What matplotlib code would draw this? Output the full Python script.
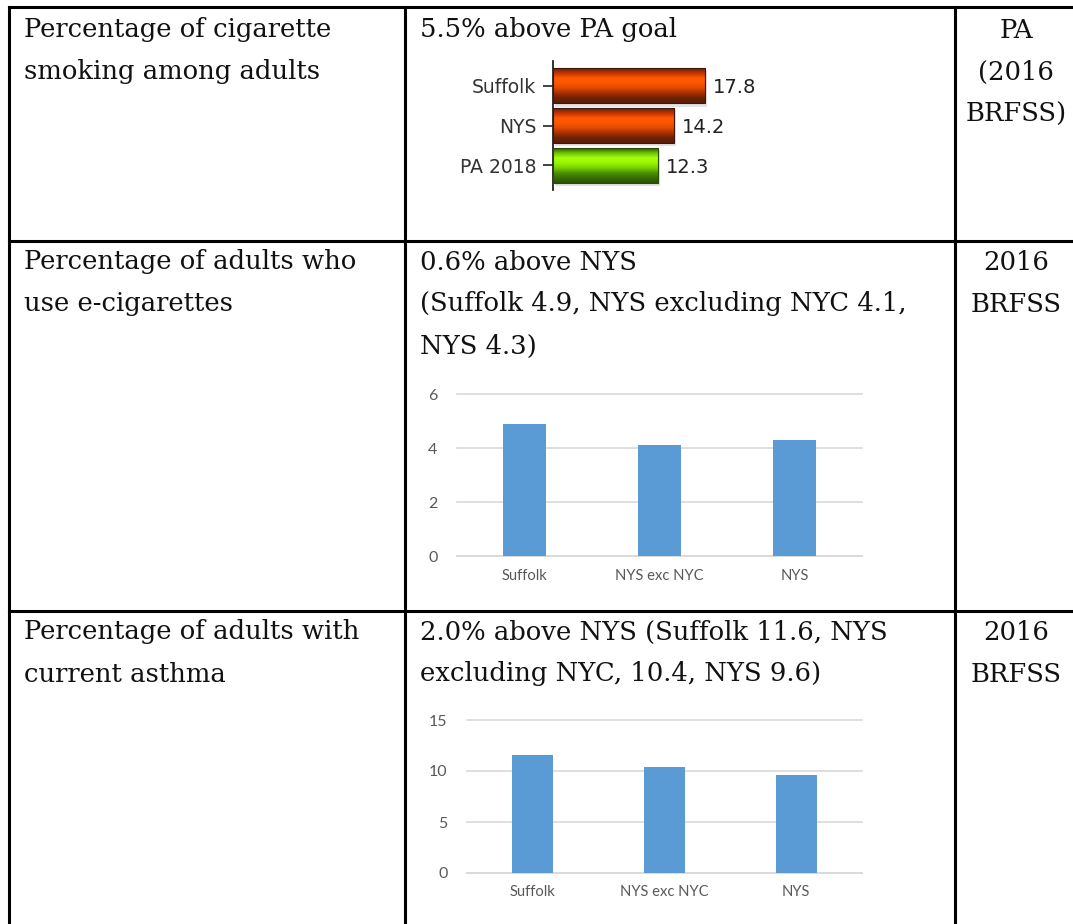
import numpy as np
import matplotlib
matplotlib.use("Agg")
import matplotlib.pyplot as plt
from matplotlib.colors import LinearSegmentedColormap
from matplotlib.lines import Line2D

W, H = 1073, 924

# row 1: cigarette smoking (horizontal bars)
smoke_labels = ["Suffolk", "NYS", "PA 2018"]
smoke_values = [17.8, 14.2, 12.3]
smoke_kind = ["over", "over", "goal"]

# row 2: e-cigarettes
ecig_labels = ["Suffolk", "NYS exc NYC", "NYS"]
ecig_values = [4.9, 4.1, 4.3]
ecig_ticks = [0, 2, 4, 6]

# row 3: current asthma
asthma_labels = ["Suffolk", "NYS exc NYC", "NYS"]
asthma_values = [11.6, 10.4, 9.6]
asthma_ticks = [0, 5, 10, 15]

# table text, one list of lines per cell
col1_text = [
    ["Percentage of cigarette", "smoking among adults"],
    ["Percentage of adults who", "use e-cigarettes"],
    ["Percentage of adults with", "current asthma"],
]
col2_text = [
    ["5.5% above PA goal"],
    ["0.6% above NYS", "(Suffolk 4.9, NYS excluding NYC 4.1,", "NYS 4.3)"],
    ["2.0% above NYS (Suffolk 11.6, NYS", "excluding NYC, 10.4, NYS 9.6)"],
]
col3_text = [
    ["PA", "(2016", "BRFSS)"],
    ["2016", "BRFSS"],
    ["2016", "BRFSS"],
]
row_tops = [30, 262, 632]
LINE_GAP = 42

SERIF = "DejaVu Serif"
SERIF_SIZE = 18.6
XL_FONT = ["Lato", "DejaVu Sans"]
BLUE = "#5B9BD5"
GREY_TXT = "#595959"
GRID = "#D9D9D9"


def fx(x):
    return x / W


def fy(y):
    return 1 - y / H


def px_axes(fig, x0, y0, x1, y1):
    # axes from pixel box (top-left origin)
    return fig.add_axes([fx(x0), fy(y1), (x1 - x0) / W, (y1 - y0) / H])


def draw_table(fig):
    lw = 2.2
    segs = [
        ((9, 7), (1073, 7)),
        ((9, 241), (1073, 241)),
        ((9, 611), (1073, 611)),
        ((9, 7), (9, 924)),
        ((405, 7), (405, 924)),
        ((955, 7), (955, 924)),
    ]
    for (x0, y0), (x1, y1) in segs:
        fig.add_artist(Line2D([fx(x0), fx(x1)], [fy(y0), fy(y1)],
                              color="black", lw=lw, solid_capstyle="projecting"))

    for r, top in enumerate(row_tops):
        for i, line in enumerate(col1_text[r]):
            fig.text(fx(24), fy(top + i * LINE_GAP), line, family=SERIF,
                     fontsize=SERIF_SIZE, va="center", ha="left", color="#111111")
        for i, line in enumerate(col2_text[r]):
            fig.text(fx(420), fy(top + i * LINE_GAP), line, family=SERIF,
                     fontsize=SERIF_SIZE, va="center", ha="left", color="#111111")
        for i, line in enumerate(col3_text[r]):
            fig.text(fx(1016), fy(top + i * LINE_GAP), line, family=SERIF,
                     fontsize=SERIF_SIZE, va="center", ha="center", color="#111111")


def gradient_bar(ax, patch, cmap, x0, x1, y0, y1):
    grad = np.linspace(0, 1, 64).reshape(-1, 1)
    im = ax.imshow(grad, cmap=cmap, aspect="auto", extent=[x0, x1, y1, y0],
                   zorder=3, interpolation="bilinear")
    im.set_clip_path(patch)


def plot_smoking(fig):
    ax = px_axes(fig, 553, 61, 724, 190)
    orange = LinearSegmentedColormap.from_list(
        "orange", ["#5e2410", "#c83400", "#ff5a00", "#fb5600", "#e04a00",
                   "#a83000", "#6e2204", "#5a1c08"])
    green = LinearSegmentedColormap.from_list(
        "green", ["#2f5a08", "#70c800", "#a8ff10", "#98f400", "#78d000",
                  "#4c9000", "#3a6e02", "#2c5206"])

    ypos = np.arange(len(smoke_labels))
    h = 0.87
    # soft shadow
    ax.barh(ypos + 0.07, smoke_values, height=h + 0.04, left=0.2, color="#bbbbbb",
            alpha=0.4, zorder=1, lw=0)
    bars = ax.barh(ypos, smoke_values, height=h, color="none",
                   edgecolor="#3a1a0a", lw=0.8, zorder=4)
    for b, v, kind in zip(bars, smoke_values, smoke_kind):
        cmap = green if kind == "goal" else orange
        if kind == "goal":
            b.set_edgecolor("#2a4a08")
        gradient_bar(ax, b, cmap, 0, v, b.get_y(), b.get_y() + h)
        ax.text(v + 0.9, b.get_y() + h / 2 + 0.05, f"{v}", va="center", ha="left",
                fontsize=14, color="#222222", family="DejaVu Sans")

    ax.set_xlim(0, 20)
    ax.set_ylim(2.62, -0.62)
    ax.set_yticks(ypos)
    ax.set_yticklabels(smoke_labels, fontsize=13.5, color="#333333",
                       family="DejaVu Sans")
    ax.set_xticks([])
    for s in ["top", "right", "bottom"]:
        ax.spines[s].set_visible(False)
    ax.spines["left"].set_color("#222222")
    ax.spines["left"].set_linewidth(1.3)
    ax.tick_params(axis="y", length=7, width=1.2, color="#222222", pad=5)
    ax.patch.set_visible(False)


def plot_columns(fig, box, labels, values, ticks, width):
    ax = px_axes(fig, *box)
    x = np.arange(len(labels))
    ax.bar(x, values, width=width, color=BLUE, zorder=3)
    ax.set_xlim(-0.5, len(labels) - 0.5)
    ax.set_ylim(ticks[0], ticks[-1])
    ax.set_yticks(ticks)
    ax.set_xticks(x)
    ax.set_xticklabels(labels, family=XL_FONT, fontsize=10.6, color=GREY_TXT)
    ax.set_yticklabels([str(t) for t in ticks], family=XL_FONT, fontsize=11.5,
                       color=GREY_TXT)
    ax.grid(axis="y", color=GRID, lw=1.2, zorder=0)
    for line in ax.get_ygridlines():
        line.set_clip_on(False)
    for s in ["top", "right", "left"]:
        ax.spines[s].set_visible(False)
    ax.spines["bottom"].set_color(GRID)
    ax.spines["bottom"].set_linewidth(1.2)
    ax.tick_params(length=0)
    ax.tick_params(axis="x", pad=9)
    ax.tick_params(axis="y", pad=14)
    ax.patch.set_visible(False)
    return ax


def main():
    fig = plt.figure(figsize=(W / 100, H / 100), dpi=100)
    draw_table(fig)
    plot_smoking(fig)
    plot_columns(fig, (457, 394, 862, 556), ecig_labels, ecig_values, ecig_ticks, 0.32)
    plot_columns(fig, (467, 720, 862, 873), asthma_labels, asthma_values, asthma_ticks, 0.31)
    fig.savefig("out.png", dpi=100, facecolor="white")
    plt.close(fig)


if __name__ == "__main__":
    main()
